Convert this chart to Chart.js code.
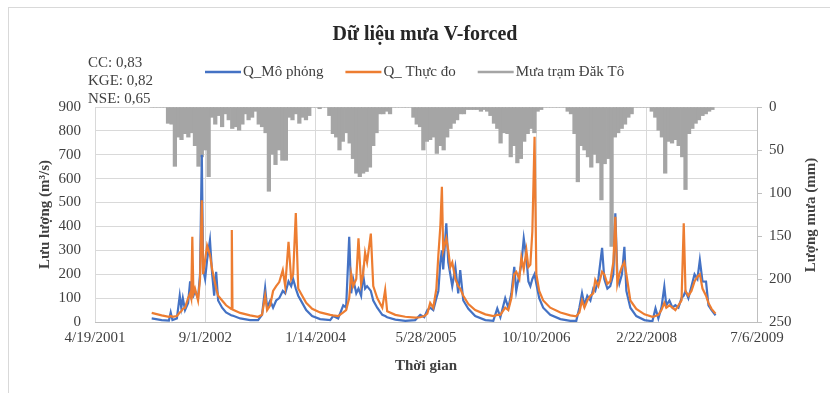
<!DOCTYPE html>
<html>
<head>
<meta charset="utf-8">
<script src="https://cdn.jsdelivr.net/npm/chart.js@4.4.1/dist/chart.umd.min.js"></script>
<style>
  body { margin: 0; background: #fff; overflow: hidden; }
  #wrap { position: relative; width: 830px; height: 393px; }
  #frame { position: absolute; left: 8px; top: 7px; width: 900px; height: 500px; border: 1px solid #d9d9d9; box-sizing: border-box; }
  canvas { position: absolute; left: 0; top: 0; }
</style>
</head>
<body>
<div id="wrap">
  <div id="frame"></div>
  <canvas id="chart"></canvas>
</div>
<script>
// ---- data ----
const chartTitle = 'Dữ liệu mưa V-forced';
const statLines = ['CC: 0,83', 'KGE: 0,82', 'NSE: 0,65'];
const seriesNames = ['Q_Mô phỏng', 'Q_ Thực đo', 'Mưa trạm Đăk Tô'];
const xTicks = ['4/19/2001', '9/1/2002', '1/14/2004', '5/28/2005', '10/10/2006', '2/22/2008', '7/6/2009'];

const flowDates = [
  '2002-01-01','2002-02-15','2002-03-20','2002-03-28','2002-04-05','2002-04-25','2002-05-08','2002-05-15','2002-05-22','2002-06-01',
  '2002-06-15','2002-06-24','2002-06-29','2002-07-04','2002-07-09','2002-07-16','2002-07-30','2002-08-08','2002-08-16','2002-08-22',
  '2002-08-31','2002-09-09','2002-09-22','2002-10-02','2002-10-11','2002-10-20','2002-10-29','2002-11-16','2002-12-04','2002-12-27',
  '2002-12-30','2003-01-02','2003-02-06','2003-03-23','2003-04-28','2003-05-16','2003-05-30','2003-06-08','2003-06-22','2003-07-05',
  '2003-07-19','2003-08-02','2003-08-18','2003-08-29','2003-09-13','2003-09-25','2003-10-04','2003-10-16','2003-10-27','2003-11-14',
  '2003-12-02','2003-12-29','2004-02-03','2004-03-20','2004-04-02','2004-04-25','2004-05-18','2004-05-31','2004-06-14','2004-06-23',
  '2004-07-02','2004-07-16','2004-07-26','2004-08-07','2004-08-16','2004-08-25','2004-09-03','2004-09-20','2004-10-01','2004-10-19',
  '2004-11-11','2004-11-24','2004-12-03','2005-01-09','2005-02-23','2005-04-09','2005-05-02','2005-05-20','2005-06-03','2005-06-16',
  '2005-06-30','2005-07-14','2005-07-23','2005-08-01','2005-08-08','2005-08-14','2005-08-28','2005-09-06','2005-09-15','2005-09-24',
  '2005-10-08','2005-10-21','2005-10-30','2005-11-13','2005-12-06','2006-01-06','2006-02-21','2006-03-29','2006-04-16','2006-04-30',
  '2006-05-22','2006-06-05','2006-06-19','2006-07-02','2006-07-11','2006-07-25','2006-08-03','2006-08-14','2006-08-26','2006-09-04',
  '2006-09-13','2006-09-22','2006-10-02','2006-10-10','2006-10-23','2006-11-10','2006-12-12','2007-01-27','2007-03-13','2007-04-09',
  '2007-04-23','2007-05-05','2007-05-16','2007-05-29','2007-06-12','2007-06-25','2007-07-04','2007-07-18','2007-08-04','2007-08-14',
  '2007-08-28','2007-09-10','2007-09-24','2007-10-03','2007-10-12','2007-10-21','2007-11-02','2007-11-13','2007-11-22','2007-12-10',
  '2008-01-06','2008-02-12','2008-03-19','2008-04-02','2008-04-15','2008-04-29','2008-05-12','2008-05-21','2008-06-04','2008-06-18',
  '2008-07-01','2008-07-15','2008-07-29','2008-08-08','2008-08-16','2008-08-29','2008-09-12','2008-09-26','2008-10-09','2008-10-20',
  '2008-11-01','2008-11-17','2008-11-28','2008-12-12','2008-12-30'
];

const qSim = [
  15, 8, 6, 40, 8, 15, 110, 60, 100, 50,
  80, 170, 110, 120, 110, 130, 100, 200, 700, 220,
  180, 260, 343, 200, 110, 210, 90, 60, 40, 28,
  28, 27, 15, 8, 8, 30, 142, 60, 90, 60,
  90, 100, 130, 120, 170, 150, 180, 140, 110, 80,
  50, 25, 12, 8, 25, 15, 70, 60, 357, 120,
  180, 120, 140, 110, 200, 140, 150, 130, 90, 60,
  30, 25, 20, 10, 5, 8, 30, 20, 50, 60,
  50, 100, 130, 250, 300, 220, 413, 250, 200, 150,
  230, 120, 217, 90, 55, 25, 8, 5, 57, 20,
  100, 60, 120, 231, 130, 200, 240, 350, 270, 170,
  150, 180, 200, 160, 100, 60, 30, 12, 5, 5,
  60, 121, 70, 110, 90, 140, 130, 180, 310, 180,
  140, 150, 200, 455, 200, 160, 200, 315, 130, 60,
  25, 8, 3, 57, 15, 60, 148, 70, 90, 60,
  70, 60, 100, 110, 130, 100, 150, 200, 180, 259,
  170, 169, 70, 50, 28
];

const qObs = [
  38, 28, 22, 25, 22, 25, 40, 45, 55, 60,
  100, 120, 100, 357, 120, 140, 90, 180, 510, 200,
  260, 320, 280, 220, 180, 140, 110, 90, 70, 55,
  385, 52, 38, 28, 22, 30, 110, 50, 70, 130,
  150, 167, 217, 150, 336, 180, 200, 456, 140, 110,
  80, 55, 40, 30, 28, 25, 40, 50, 100, 200,
  150, 180, 350, 160, 200, 290, 250, 370, 150, 100,
  60, 134, 45, 30, 22, 18, 20, 25, 35, 80,
  60, 140, 280, 400, 566, 300, 350, 300, 230, 250,
  180, 150, 140, 110, 75, 50, 32, 25, 30, 30,
  60, 50, 100, 200, 210, 180, 270, 220, 300, 230,
  240, 380, 775, 200, 130, 90, 60, 40, 28, 24,
  40, 90, 60, 90, 110, 120, 176, 150, 210, 200,
  160, 170, 250, 440, 160, 200, 231, 250, 200, 90,
  55, 32, 22, 25, 30, 50, 80, 60, 70, 60,
  50, 70, 90, 413, 130, 110, 130, 170, 190, 200,
  140, 110, 80, 55, 35
];

// rain (mm), one value per half month (1st and 16th of each month)
const rain2002 = [0, 0, 0, 0, 0, 19, 20, 69, 35, 38, 31, 35, 30, 45, 69, 58, 50, 81, 12, 20, 10, 23, 8, 15];
const rain2003 = [25, 23, 27, 20, 8, 15, 12, 5, 20, 23, 30, 98, 55, 67, 50, 62, 62, 12, 15, 8, 19, 12, 15, 10];
const rain2004 = [0, 0, 2, 0, 0, 10, 31, 35, 50, 40, 30, 42, 60, 77, 81, 77, 75, 70, 45, 30, 8, 8, 5, 8];
const rain2005 = [0, 0, 0, 0, 0, 0, 12, 20, 23, 50, 40, 38, 35, 54, 45, 50, 35, 25, 19, 15, 8, 8, 3, 3];
const rain2006 = [3, 3, 5, 3, 5, 10, 19, 25, 42, 30, 31, 58, 45, 65, 60, 40, 31, 25, 30, 5, 3, 0, 0, 0];
const rain2007 = [0, 0, 0, 0, 5, 8, 31, 87, 45, 50, 58, 70, 55, 65, 108, 66, 60, 162, 35, 30, 25, 20, 12, 8];
const rain2008 = [0, 0, 0, 0, 0, 5, 12, 27, 35, 77, 40, 42, 38, 45, 58, 96, 31, 25, 19, 15, 10, 8, 5, 3];
const rainYears = [2002, 2003, 2004, 2005, 2006, 2007, 2008];
const rainByYear = [rain2002, rain2003, rain2004, rain2005, rain2006, rain2007, rain2008];

// ---- helpers: dates as Excel day numbers ----
function toSerial(y, m, d) {
  return Date.UTC(y, m - 1, d) / 86400000 + 25569;
}
function dateSerial(s) {
  const p = s.split('-').map(Number);
  return toSerial(p[0], p[1], p[2]);
}

const simPoints = flowDates.map((d, i) => ({ x: dateSerial(d), y: qSim[i] }));
const obsPoints = flowDates.map((d, i) => ({ x: dateSerial(d), y: qObs[i] }));
const rainPoints = [];
rainYears.forEach((yr, k) => {
  rainByYear[k].forEach((v, i) => {
    rainPoints.push({ x: toSerial(yr, Math.floor(i / 2) + 1, i % 2 ? 16 : 1), y: v });
  });
});

const colors = ['#4472C4', '#ED7D31', '#A5A5A5'];
const serif = '"Liberation Serif", "Times New Roman", serif';
const textColor = '#404040';

const overlay = {
  id: 'overlay',
  afterDraw(chart) {
    const c = chart.ctx;
    c.save();
    c.textBaseline = 'middle';
    // title
    c.fillStyle = '#262626';
    c.font = 'bold 20px ' + serif;
    c.textAlign = 'center';
    c.fillText(chartTitle, 425, 35);
    // stats
    c.fillStyle = textColor;
    c.font = '15px ' + serif;
    c.textAlign = 'left';
    statLines.forEach((t, i) => c.fillText(t, 88, 63 + i * 18));
    // legend
    let x = 205;
    seriesNames.forEach((name, i) => {
      c.strokeStyle = colors[i];
      c.lineWidth = 2.5;
      c.beginPath();
      c.moveTo(x, 72);
      c.lineTo(x + 36, 72);
      c.stroke();
      c.fillStyle = textColor;
      c.fillText(name, x + 38, 72);
      x += 38 + c.measureText(name).width + 22;
    });
    // right axis title (reads bottom to top)
    c.translate(811, 215);
    c.rotate(-Math.PI / 2);
    c.font = 'bold 15px ' + serif;
    c.textAlign = 'center';
    c.fillText('Lượng mưa (mm)', 0, 0);
    c.restore();
  }
};

new Chart(document.getElementById('chart'), {
  type: 'line',
  data: {
    datasets: [
      {
        label: seriesNames[0], data: simPoints, yAxisID: 'y', order: 2,
        borderColor: colors[0], backgroundColor: colors[0], borderWidth: 2.2,
        pointRadius: 0, tension: 0
      },
      {
        label: seriesNames[1], data: obsPoints, yAxisID: 'y', order: 1,
        borderColor: colors[1], backgroundColor: colors[1], borderWidth: 2.2,
        pointRadius: 0, tension: 0
      },
      {
        type: 'bar', label: seriesNames[2], data: rainPoints, yAxisID: 'y2', order: 3,
        backgroundColor: colors[2], borderWidth: 0, barThickness: 3.6
      }
    ]
  },
  options: {
    responsive: true,
    maintainAspectRatio: false,
    animation: false,
    layout: { padding: { left: 36, right: 12, top: 107, bottom: 14 } },
    plugins: {
      legend: { display: false },
      title: { display: false },
      tooltip: { enabled: false }
    },
    scales: {
      x: {
        type: 'linear', min: 37000, max: 40000, offset: false,
        afterFit: s => { s.height = 57; },
        ticks: {
          stepSize: 500, padding: 7, color: textColor, maxRotation: 0,
          font: { family: serif, size: 15 },
          callback: (v) => xTicks[Math.round((v - 37000) / 500)]
        },
        grid: { color: '#d9d9d9', drawTicks: false, offset: false },
        border: { color: '#bfbfbf' },
        title: { display: true, text: 'Thời gian', color: textColor, font: { family: serif, size: 15, weight: 'bold' }, padding: { top: 0, bottom: 4 } }
      },
      y: {
        position: 'left', min: 0, max: 900,
        afterFit: s => { s.width = 59; },
        ticks: { stepSize: 100, padding: 14, color: textColor, font: { family: serif, size: 15 } },
        grid: { color: '#d9d9d9', drawTicks: false },
        border: { display: false },
        title: { display: true, text: 'Lưu lượng (m³/s)', color: textColor, font: { family: serif, size: 15, weight: 'bold' }, padding: { top: 0, bottom: 0 } }
      },
      y2: {
        position: 'right', min: 0, max: 250, reverse: true,
        afterFit: s => { s.width = 61; },
        ticks: { stepSize: 50, padding: 7, color: textColor, font: { family: serif, size: 15 } },
        grid: { drawOnChartArea: false, drawTicks: true, tickLength: 5, color: '#bfbfbf' },
        border: { color: '#bfbfbf' }
      }
    }
  },
  plugins: [overlay]
});
</script>
</body>
</html>
